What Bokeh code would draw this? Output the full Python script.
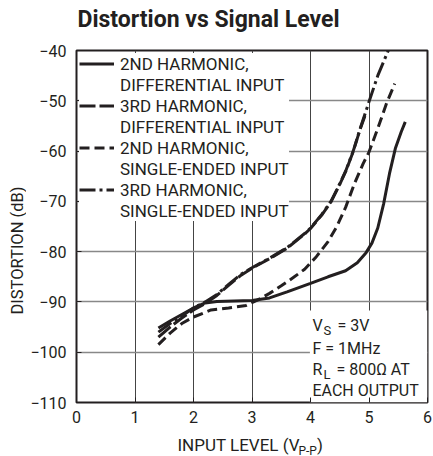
from math import pi
from bokeh.plotting import figure
from bokeh.layouts import row, column
from bokeh.models import Legend, LegendItem, Label, FixedTicker, BoxAnnotation
from bokeh.embed import file_html
from bokeh.resources import INLINE

# ---------------- data ----------------
x_ticks = [0, 1, 2, 3, 4, 5, 6]
x_tick_labels = ["0", "1", "2", "3", "4", "5", "6"]
y_ticks = [-110, -100, -90, -80, -70, -60, -50, -40]
y_tick_labels = ["\u2212110", "\u2212100", "\u221290", "\u221280", "\u221270", "\u221260", "\u221250", "\u221240"]

# 2nd harmonic, differential input (solid)
h2_diff_x = [1.4, 1.6, 1.8, 2.0, 2.2, 2.4, 2.7, 3.0, 3.3, 3.6, 4.0, 4.3, 4.6, 4.8, 4.95, 5.05, 5.15, 5.25, 5.35, 5.45, 5.55, 5.62]
h2_diff_y = [-95.2, -93.8, -92.5, -91.2, -90.2, -89.9, -89.8, -89.7, -89.2, -88.0, -86.3, -85.0, -83.8, -82.2, -80.2, -78.3, -75.3, -70.5, -64.5, -59.5, -56.2, -54.2]

# 3rd harmonic, differential input (long dash)
h3_diff_x = [1.4, 1.6, 1.8, 2.0, 2.2, 2.4, 2.6, 2.8, 3.0, 3.3, 3.6, 3.9, 4.0, 4.2, 4.35, 4.5, 4.6, 4.73, 4.85, 4.93]
h3_diff_y = [-97.0, -95.0, -93.2, -91.6, -90.3, -88.7, -86.7, -84.8, -83.3, -81.4, -79.3, -76.5, -75.4, -72.6, -70.1, -66.6, -64.1, -60.1, -55.6, -53.0]

# 2nd harmonic, single-ended input (short dash)
h2_se_x = [1.4, 1.6, 1.8, 2.0, 2.3, 2.6, 2.9, 3.1, 3.3, 3.5, 3.7, 3.9, 4.1, 4.3, 4.45, 4.6, 4.75, 4.9, 5.0, 5.15, 5.3, 5.44]
h2_se_y = [-98.5, -96.2, -94.3, -93.0, -91.6, -91.2, -90.7, -89.6, -88.3, -86.8, -85.2, -83.5, -81.0, -78.0, -75.0, -71.2, -66.5, -62.5, -60.2, -55.5, -50.5, -46.6]

# 3rd harmonic, single-ended input (dash-dot)
h3_se_x = [1.4, 1.6, 1.8, 2.0, 2.2, 2.4, 2.6, 2.8, 3.0, 3.3, 3.6, 3.9, 4.0, 4.2, 4.35, 4.5, 4.6, 4.73, 4.85, 5.0, 5.15, 5.33]
h3_se_y = [-96.0, -94.3, -92.8, -91.2, -90.0, -88.5, -86.5, -84.6, -83.2, -81.3, -79.2, -76.4, -75.3, -72.5, -70.0, -66.5, -64.0, -60.0, -55.5, -50.2, -45.0, -40.0]

legend_lines = [
    ["2ND HARMONIC,", "DIFFERENTIAL INPUT"],
    ["3RD HARMONIC,", "DIFFERENTIAL INPUT"],
    ["2ND HARMONIC,", "SINGLE-ENDED INPUT"],
    ["3RD HARMONIC,", "SINGLE-ENDED INPUT"],
]

FONT = "Roboto"
INK = "#231f20"

LEFT_W = 26
MAIN_W = 407
TITLE_H = 40
MAIN_H = 389
XLAB_H = 27
TOTAL_H = TITLE_H + MAIN_H + XLAB_H

# ---------------- main plot ----------------
p = figure(width=MAIN_W, height=MAIN_H, x_range=(0, 6), y_range=(-110, -40), title=None,
           output_backend="svg", toolbar_location=None,
           min_border_left=50, min_border_right=6, min_border_top=10, min_border_bottom=27)
p.background_fill_color = "white"
p.border_fill_color = "white"
p.outline_line_color = INK
p.outline_line_width = 2

for ax, ticks, labels in ((p.xaxis[0], x_ticks, x_tick_labels), (p.yaxis[0], y_ticks, y_tick_labels)):
    ax.ticker = FixedTicker(ticks=ticks)
    ax.major_label_overrides = {t: l for t, l in zip(ticks, labels)}
    ax.major_label_text_font = FONT
    ax.major_label_text_font_size = "16px"
    ax.major_label_text_color = INK
    ax.axis_line_color = None
    ax.major_tick_in = 5
    ax.major_tick_out = 0
    ax.major_tick_line_color = INK
    ax.minor_tick_line_color = None
p.yaxis.major_label_standoff = 10
p.xaxis.major_label_standoff = 8

p.xgrid.grid_line_color = "#444444"
p.xgrid.grid_line_width = 1
p.ygrid.grid_line_color = "#888888"
p.ygrid.grid_line_width = 1.5

lw = 3
r1 = p.line(h2_diff_x, h2_diff_y, line_color=INK, line_width=lw)
r2 = p.line(h3_diff_x, h3_diff_y, line_color=INK, line_width=lw, line_dash="16 4")
r3 = p.line(h2_se_x, h2_se_y, line_color=INK, line_width=lw, line_dash="10 5")
r4 = p.line(h3_se_x, h3_se_y, line_color=INK, line_width=lw, line_dash="16 4 3 4")

items = []
for rend, (l1, l2) in zip([r1, r2, r3, r4], legend_lines):
    items.append(LegendItem(label=l1, renderers=[rend]))
    items.append(LegendItem(label=l2, renderers=[]))

legend = Legend(items=items, location="top_left", margin=3, padding=5, spacing=0,
                glyph_width=35, glyph_height=21, label_height=21, label_standoff=6,
                label_text_font=FONT, label_text_font_size="17px", label_text_color=INK,
                border_line_color=None, background_fill_color="white", background_fill_alpha=1)
legend.level = "underlay"

box = BoxAnnotation(left=3.99, right=6, bottom=-110, top=-91.7, fill_color="white", fill_alpha=1,
                    line_alpha=0, level="underlay")
p.add_layout(box)
p.add_layout(legend)


def lab(fig, x, y, text, size="16px", **kw):
    kw.setdefault("text_baseline", "alphabetic")
    fig.add_layout(Label(x=x, y=y, text=text, text_font=FONT, text_font_size=size,
                         text_color=INK, **kw))


# test conditions
ax0 = 4.034
lab(p, ax0, -94.7, "V")
lab(p, ax0, -95.6, "S", size="13px", x_offset=11)
lab(p, ax0, -94.7, "= 3V", x_offset=25)
lab(p, ax0, -99.25, "F = 1MHz")
lab(p, ax0, -103.45, "R")
lab(p, ax0, -104.5, "L", size="13px", x_offset=11)
lab(p, ax0, -103.45, "= 800\u03a9 AT", x_offset=24)
lab(p, ax0, -107.6, "EACH OUTPUT")


def blank(w, h, x_range):
    f = figure(width=w, height=h, x_range=x_range, y_range=(0, h), output_backend="svg",
               toolbar_location=None, x_axis_location=None, y_axis_location=None, min_border=0)
    f.outline_line_color = None
    f.background_fill_color = "white"
    f.border_fill_color = "white"
    f.grid.visible = False
    return f


# title strip (shares the x scale of the chart)
tfig = blank(MAIN_W, TITLE_H, p.x_range)
lab(tfig, 0, 21, "Distortion vs Signal Level", size="23px", text_font_style="bold", x_offset=1)

# y-axis title strip
yfig = blank(LEFT_W, TOTAL_H, (0, LEFT_W))
lab(yfig, 17, TOTAL_H - 250, "DISTORTION (dB)", size="16.5px", angle=pi / 2, text_align="center")

# x-axis title strip (shares the x scale of the chart; with subscript)
xfig = blank(MAIN_W, XLAB_H, p.x_range)
x_title_at = 1.726
lab(xfig, x_title_at, 12, "INPUT LEVEL (V", size="17px")
lab(xfig, x_title_at, 6, "P-P", size="12px", x_offset=121)
lab(xfig, x_title_at, 12, ")", size="17px", x_offset=139.5)

layout = row(yfig, column(tfig, p, xfig, spacing=0), spacing=0)

open("out.html", "w").write(file_html(layout, INLINE))
